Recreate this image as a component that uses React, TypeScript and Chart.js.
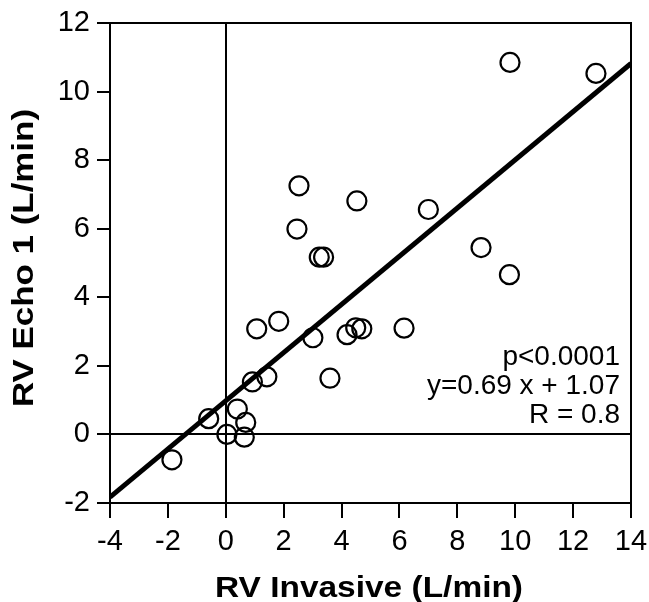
import React, { useEffect, useRef } from "react";
import { Chart, registerables } from "chart.js";

Chart.register(...registerables);

// Scatter data: RV Invasive (x) vs RV Echo 1 (y), L/min
const invasiveX = [
  9.82, 12.79, 2.53, 4.53, 7.0, 2.46, 3.23, 3.38, 8.82, 9.8,
  1.83, 1.07, 3.01, 4.19, 4.49, 4.7, 6.16, 3.6, 1.42, 0.92,
  -0.59, 0.4, 0.69, 0.04, 0.64, -1.86,
];
const echoY = [
  10.85, 10.53, 7.25, 6.81, 6.56, 5.99, 5.17, 5.17, 5.45, 4.66,
  3.3, 3.08, 2.82, 2.91, 3.11, 3.08, 3.1, 1.64, 1.68, 1.53,
  0.46, 0.74, 0.35, 0.0, -0.08, -0.74,
];

// Regression line end points as drawn
const fitX = [-4, 14];
const fitY = [-1.83, 10.82];

const xTicks = [-4, -2, 0, 2, 4, 6, 8, 10, 12, 14];
const yTicks = [-2, 0, 2, 4, 6, 8, 10, 12];

const statsLines = ["p<0.0001", "y=0.69 x + 1.07", "R = 0.8"];
const xTitle = "RV Invasive (L/min)";
const yTitle = "RV Echo 1 (L/min)";

const FONT = "'Liberation Sans', Arial, Helvetica, sans-serif";

export default function App() {
  const ref = useRef<HTMLCanvasElement | null>(null);

  useEffect(() => {
    if (!ref.current) return;

    const decor = {
      id: "decor",
      afterDraw(chart: any) {
        const { ctx, chartArea } = chart;
        const { left, top, right, bottom } = chartArea;
        ctx.save();
        ctx.strokeStyle = "#000";
        ctx.lineWidth = 2;
        ctx.strokeRect(left, top, right - left, bottom - top);

        ctx.fillStyle = "#000";
        // stats text
        ctx.font = `28px ${FONT}`;
        ctx.textAlign = "right";
        ctx.textBaseline = "alphabetic";
        const sx = right - 11;
        const ys = [365, 394, 423];
        statsLines.forEach((t, i) => ctx.fillText(t, sx, ys[i]));

        // axis titles (stretched along text direction to match the figure)
        ctx.font = `bold 30px ${FONT}`;
        ctx.textAlign = "center";
        const xw = ctx.measureText(xTitle).width;
        ctx.save();
        ctx.translate(369, 597);
        ctx.scale(308 / xw, 1);
        ctx.fillText(xTitle, 0, 0);
        ctx.restore();

        const yw = ctx.measureText(yTitle).width;
        ctx.save();
        ctx.translate(33, 258);
        ctx.rotate(-Math.PI / 2);
        ctx.scale(298 / yw, 1);
        ctx.fillText(yTitle, 0, 0);
        ctx.restore();

        ctx.restore();
      },
    };

    const chart = new Chart(ref.current, {
      type: "scatter",
      data: {
        datasets: [
          {
            type: "line",
            data: fitX.map((x, i) => ({ x, y: fitY[i] })),
            borderColor: "#000",
            borderWidth: 5,
            pointRadius: 0,
            fill: false,
          } as any,
          {
            data: invasiveX.map((x, i) => ({ x, y: echoY[i] })),
            pointStyle: "circle",
            pointRadius: 9.5,
            pointBorderWidth: 2.2,
            pointBorderColor: "#000",
            pointBackgroundColor: "rgba(0,0,0,0)",
          } as any,
        ],
      },
      plugins: [decor],
      options: {
        responsive: false,
        animation: false,
        layout: { padding: { left: 0, top: 23, right: 18, bottom: 0 } },
        plugins: {
          legend: { display: false },
          tooltip: { enabled: false },
        },
        scales: {
          x: {
            type: "linear",
            min: -4,
            max: 14,
            afterBuildTicks: (s: any) => {
              s.ticks = xTicks.map((v) => ({ value: v }));
            },
            afterFit: (s: any) => {
              s.height = 99;
              s.paddingLeft = 0;
              s.paddingRight = 0;
            },
            ticks: {
              color: "#000",
              font: { family: FONT, size: 29 },
              padding: 7,
              maxRotation: 0,
            },
            grid: {
              color: (c: any) => (c.tick && c.tick.value === 0 ? "#000" : "rgba(0,0,0,0)"),
              lineWidth: 2,
              tickColor: "#000",
              tickLength: 15,
              tickWidth: 2,
            },
            border: { display: true, color: "#000", width: 2 },
            title: { display: false },
          },
          y: {
            type: "linear",
            min: -2,
            max: 12,
            afterBuildTicks: (s: any) => {
              s.ticks = yTicks.map((v) => ({ value: v }));
            },
            afterFit: (s: any) => {
              s.width = 110;
              s.paddingTop = 0;
              s.paddingBottom = 0;
            },
            ticks: {
              color: "#000",
              font: { family: FONT, size: 29 },
              padding: 7,
            },
            grid: {
              color: (c: any) => (c.tick && c.tick.value === 0 ? "#000" : "rgba(0,0,0,0)"),
              lineWidth: 2,
              tickColor: "#000",
              tickLength: 13,
              tickWidth: 2,
            },
            border: { display: true, color: "#000", width: 2 },
            title: { display: false },
          },
        },
      },
    });

    return () => chart.destroy();
  }, []);

  return (
    <div style={{ position: "absolute", left: 0, top: 0, width: 649, height: 602, background: "#fff" }}>
      <canvas ref={ref} width={649} height={602} style={{ display: "block" }} />
    </div>
  );
}
